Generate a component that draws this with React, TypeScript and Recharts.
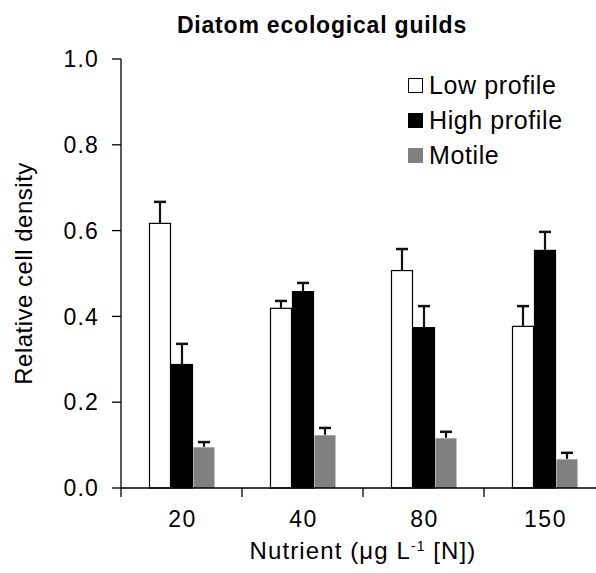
import { BarChart, Bar, XAxis, YAxis } from 'recharts';

const categories = ['20', '40', '80', '150'];
const lowProfile = [0.618, 0.42, 0.508, 0.378];
const lowProfileErr = [0.049, 0.016, 0.049, 0.046];
const highProfile = [0.289, 0.459, 0.375, 0.555];
const highProfileErr = [0.047, 0.019, 0.049, 0.042];
const motile = [0.096, 0.124, 0.117, 0.068];
const motileErr = [0.011, 0.016, 0.014, 0.014];
const yTicks = [0, 0.2, 0.4, 0.6, 0.8, 1.0];

const series = [
  { key: 'low', err: 'lowErr', name: 'Low profile', fill: '#ffffff', stroke: '#000000' },
  { key: 'high', err: 'highErr', name: 'High profile', fill: '#000000', stroke: '#000000' },
  { key: 'motile', err: 'motileErr', name: 'Motile', fill: '#808080', stroke: 'none' },
];

const data = categories.map((c, i) => ({
  name: c,
  low: lowProfile[i],
  lowErr: lowProfileErr[i],
  high: highProfile[i],
  highErr: highProfileErr[i],
  motile: motile[i],
  motileErr: motileErr[i],
}));

const FONT = 'Arial, "Liberation Sans", sans-serif';
const CHART_W = 610;
const CHART_H = 573;
const MARGIN = { top: 59, right: 5, left: 0, bottom: 0 };
const Y_AXIS_W = 121;
const BAND = (CHART_W - MARGIN.left - MARGIN.right - Y_AXIS_W) / categories.length;

// bar with upward-only error whisker, scaled from the bar's own geometry
const barWithError = (errKey: string, valKey: string, stroke: string) => (props: any) => {
  const { x, y, width, height, fill, payload } = props;
  const v = payload[valKey];
  const e = payload[errKey];
  const pxPerUnit = v ? height / v : 0;
  const top = y - e * pxPerUnit;
  const cx = x + width / 2;
  return (
    <g>
      <rect
        x={x + 0.5}
        y={y + 0.5}
        width={width - 1}
        height={height - 0.5}
        fill={fill}
        stroke={stroke}
        strokeWidth={stroke === 'none' ? 0 : 1.2}
      />
      <line x1={cx} x2={cx} y1={y} y2={top} stroke="#111" strokeWidth={2.2} />
      <line x1={cx - 6} x2={cx + 6} y1={top} y2={top} stroke="#111" strokeWidth={2.5} />
    </g>
  );
};

const XTick = (props: any) => {
  const { x, y, payload } = props;
  const bx = x - BAND / 2;
  return (
    <g>
      <line x1={bx} x2={bx} y1={y} y2={y + 9} stroke="#000" strokeWidth={1.3} />
      <text
        x={x + 1}
        y={y + 39}
        textAnchor="middle"
        fontSize={23}
        fontFamily={FONT}
        fill="#000"
        letterSpacing={1.5}
      >
        {payload.value}
      </text>
    </g>
  );
};

const ChartLegend = () => (
  <div
    style={{
      position: 'absolute',
      left: 408,
      top: 68,
      fontFamily: FONT,
      fontSize: 25,
      letterSpacing: 0.6,
      color: '#000',
    }}
  >
    {series.map((s) => (
      <div key={s.key} style={{ display: 'flex', alignItems: 'center', height: 35 }}>
        <span
          style={{
            display: 'inline-block',
            width: 13,
            height: 13,
            background: s.fill,
            border: `1px solid ${s.stroke === 'none' ? s.fill : s.stroke}`,
            marginRight: 6,
          }}
        />
        <span style={{ lineHeight: '35px' }}>{s.name}</span>
      </div>
    ))}
  </div>
);

export default function App() {
  return (
    <div
      style={{
        position: 'absolute',
        left: 0,
        top: 0,
        width: 596,
        height: 573,
        overflow: 'hidden',
        background: '#fff',
        fontFamily: FONT,
      }}
    >
      <div
        style={{
          position: 'absolute',
          left: 0,
          width: 644,
          top: 10,
          textAlign: 'center',
          fontSize: 23,
          fontWeight: 'bold',
          letterSpacing: 0.8,
          color: '#000',
          lineHeight: '30px',
        }}
      >
        Diatom ecological guilds
      </div>
      <BarChart width={CHART_W} height={CHART_H} data={data} margin={MARGIN} barGap={0}>
        <XAxis
          dataKey="name"
          height={85}
          axisLine={{ stroke: '#000', strokeWidth: 1.3 }}
          tickLine={false}
          tickSize={0}
          tickMargin={0}
          tick={<XTick />}
        />
        <YAxis
          width={Y_AXIS_W}
          domain={[0, 1]}
          ticks={yTicks}
          interval={0}
          tickFormatter={(v: number) => v.toFixed(1)}
          axisLine={{ stroke: '#000', strokeWidth: 1.3 }}
          tickLine={{ stroke: '#000', strokeWidth: 1.3 }}
          tickSize={9}
          tickMargin={13}
          tick={{ fontSize: 23, fontFamily: FONT, fill: '#000', letterSpacing: 1.2 }}
          label={{
            value: 'Relative cell density',
            angle: -90,
            position: 'insideLeft',
            offset: 23,
            style: {
              fontSize: 24,
              fontFamily: FONT,
              fill: '#000',
              textAnchor: 'middle',
              letterSpacing: 0.5,
            },
          }}
        />
        {series.map((s) => (
          <Bar
            key={s.key}
            dataKey={s.key}
            name={s.name}
            fill={s.fill}
            barSize={22}
            isAnimationActive={false}
            shape={barWithError(s.err, s.key, s.stroke)}
          />
        ))}
      </BarChart>
      <ChartLegend />
      <div
        style={{
          position: 'absolute',
          left: 121,
          width: 484,
          top: 536,
          textAlign: 'center',
          fontSize: 24,
          letterSpacing: 1.1,
          color: '#000',
          lineHeight: '30px',
        }}
      >
        Nutrient (μg L<sup style={{ fontSize: 14, verticalAlign: 'top', lineHeight: '20px' }}>-1</sup> [N])
      </div>
    </div>
  );
}
